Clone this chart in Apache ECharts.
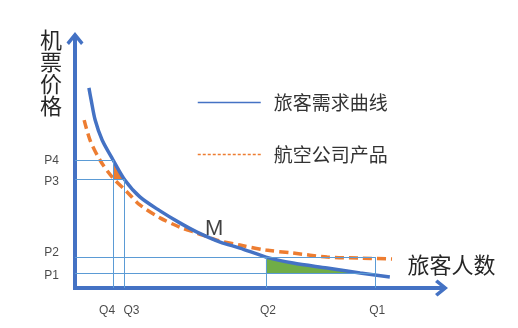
<!DOCTYPE html>
<html><head><meta charset="utf-8">
<script src="https://cdn.jsdelivr.net/npm/echarts@6/dist/echarts.min.js"></script>
<style>html,body{margin:0;padding:0;background:#fff}#c{width:518px;height:328px}</style>
</head><body><div id="c"></div>
<script>
// ---- data (schematic values on a 0-100 scale) ----
const qNames = ['Q4', 'Q3', 'Q2', 'Q1'];
const qValues = [10.4, 13.5, 52.1, 81.9];
const pNames = ['P4', 'P3', 'P2', 'P1'];
const pValues = [51.3, 43.7, 12.4, 6.0];
const mPoint = [33.3, 22.2];
const demandCurve = [[3.8,80.2],[4.4,75.4],[5.5,67.3],[7.4,59.3],[10.4,51.3],[13.6,43.3],[17.7,36.5],[23.2,30.9],[28.6,26.1],[33.3,22.4],[39.6,18.4],[45.0,16.0],[52.1,12.4],[59.5,10.0],[68.8,8.0],[77.8,6.0],[85.9,4.4]];
const airlineCurve = [[2.5,67.3],[4.1,59.3],[6.8,51.3],[10.1,44.5],[14.2,38.5],[17.7,33.3],[23.2,28.1],[28.6,24.4],[33.3,22.0],[38.7,19.2],[45.0,17.2],[52.1,15.2],[59.5,14.0],[68.8,12.4],[77.8,12.0],[86.5,11.6]];
const greenArea = [[52.1,12.4],[59.5,10.0],[68.8,8.0],[77.8,6.0],[52.1,6.0]];
const orangeArea = [[10.4,51.3],[13.5,43.7],[10.4,43.7]];

const BLUE = '#4472C4', LIGHT = '#5B9BD5', ORANGE = '#ED7D31', GREEN = '#70AD47';
const CJK = '"Noto Sans CJK SC", sans-serif';
const arrow = 'path://M8.5,0 L17,10.5 L14.5,13 L8.5,5.5 L2.5,13 L0,10.5 Z';

const P = i => pValues[i], Q = i => qValues[i];
const guides = [
  [[0, P(0)], [Q(0), P(0)]],
  [[0, P(1)], [Q(1), P(1)]],
  [[0, P(2)], [Q(3), P(2)]],
  [[0, P(3)], [Q(3), P(3)]],
  [[Q(0), 0], [Q(0), P(0)]],
  [[Q(1), 0], [Q(1), P(1)]],
  [[Q(2), 0], [Q(2), P(2)]],
  [[Q(3), 0], [Q(3), P(2)]]
].map(([a, b]) => [{coord: a}, {coord: b}]);

const qOffsets = [[-6, 0], [7, 0], [2, 0], [2, 0]];
const pOffsets = [[0, 1], [0, 3], [0, -4], [0, 3]];

const polygon = (pts, color) => (params, api) => ({
  type: 'polygon',
  shape: {points: pts.map(p => api.coord(p))},
  style: {fill: color}
});

const chart = echarts.init(document.getElementById('c'));
chart.setOption({
  animation: false,
  grid: {left: 75, right: 76.5, top: 38.5, bottom: 40},
  xAxis: {
    type: 'value', min: 0, max: 100,
    name: '旅客人数', nameLocation: 'end', nameGap: 10,
    nameTextStyle: {fontSize: 22, fontFamily: CJK, color: '#262626', align: 'center', verticalAlign: 'bottom', padding: [0, 0, 12, 0]},
    axisLine: {show: true, symbol: ['none', arrow], symbolSize: [17, 14], lineStyle: {color: BLUE, width: 4, cap: 'square'}},
    axisTick: {show: false}, axisLabel: {show: false}, splitLine: {show: false}
  },
  yAxis: {
    type: 'value', min: 0, max: 100,
    name: '机\n票\n价\n格', nameLocation: 'end', nameGap: 10,
    nameTextStyle: {fontSize: 22, lineHeight: 22, fontFamily: CJK, color: '#262626', align: 'right', verticalAlign: 'top', padding: [0, 13, 0, 0]},
    axisLine: {show: true, symbol: ['none', arrow], symbolSize: [17, 14], lineStyle: {color: BLUE, width: 4, cap: 'square'}},
    axisTick: {show: false}, axisLabel: {show: false}, splitLine: {show: false}
  },
  legend: {
    orient: 'vertical', left: 192, top: 88, itemWidth: 63, itemHeight: 14, itemGap: 33,
    itemStyle: {opacity: 0},
    textStyle: {fontSize: 19, color: '#333', fontFamily: CJK, padding: [0, 0, 0, 8]},
    data: [
      {name: '旅客需求曲线', lineStyle: {width: 1.5}},
      {name: '航空公司产品', lineStyle: {width: 1.5, type: [3, 2]}}
    ]
  },
  series: [
    {
      type: 'custom', silent: true, clip: false, z: 1,
      renderItem: polygon(greenArea, GREEN), data: [greenArea[4]]
    },
    {
      type: 'custom', silent: true, clip: false, z: 1,
      renderItem: polygon(orangeArea, ORANGE), data: [orangeArea[2]]
    },
    {
      type: 'scatter', silent: true, symbolSize: 0, z: 2,
      data: [
        ...pNames.map((n, i) => ({name: n, value: [0, pValues[i]],
          label: {show: true, position: 'left', distance: 16, offset: pOffsets[i], formatter: n}})),
        ...qNames.map((n, i) => ({name: n, value: [qValues[i], 0],
          label: {show: true, position: 'bottom', distance: 17, offset: qOffsets[i], formatter: n}})),
        {name: 'M', value: mPoint, label: {show: true, position: 'right', distance: 8, offset: [0, -4], formatter: 'M',
          fontSize: 22, color: '#111', fontFamily: '"Liberation Sans", Arial'}}
      ],
      label: {fontSize: 12, color: '#1a1a1a', fontFamily: '"Liberation Sans", Arial'},
      markLine: {
        silent: true, symbol: ['none', 'none'], label: {show: false},
        lineStyle: {color: LIGHT, width: 1, type: 'solid'},
        data: [
          ...guides,
          [{coord: [mPoint[0], -2], lineStyle: {color: GREEN, type: [2, 2], width: 1}}, {coord: mPoint}]
        ]
      }
    },
    {
      name: '航空公司产品', type: 'line', smooth: 0.3, symbol: 'none', z: 3,
      lineStyle: {color: ORANGE, width: 3.5, type: [9, 5]}, itemStyle: {color: ORANGE},
      data: airlineCurve
    },
    {
      name: '旅客需求曲线', type: 'line', smooth: 0.3, symbol: 'none', z: 4,
      lineStyle: {color: BLUE, width: 3.5}, itemStyle: {color: BLUE},
      data: demandCurve
    }
  ]
});
</script></body></html>
